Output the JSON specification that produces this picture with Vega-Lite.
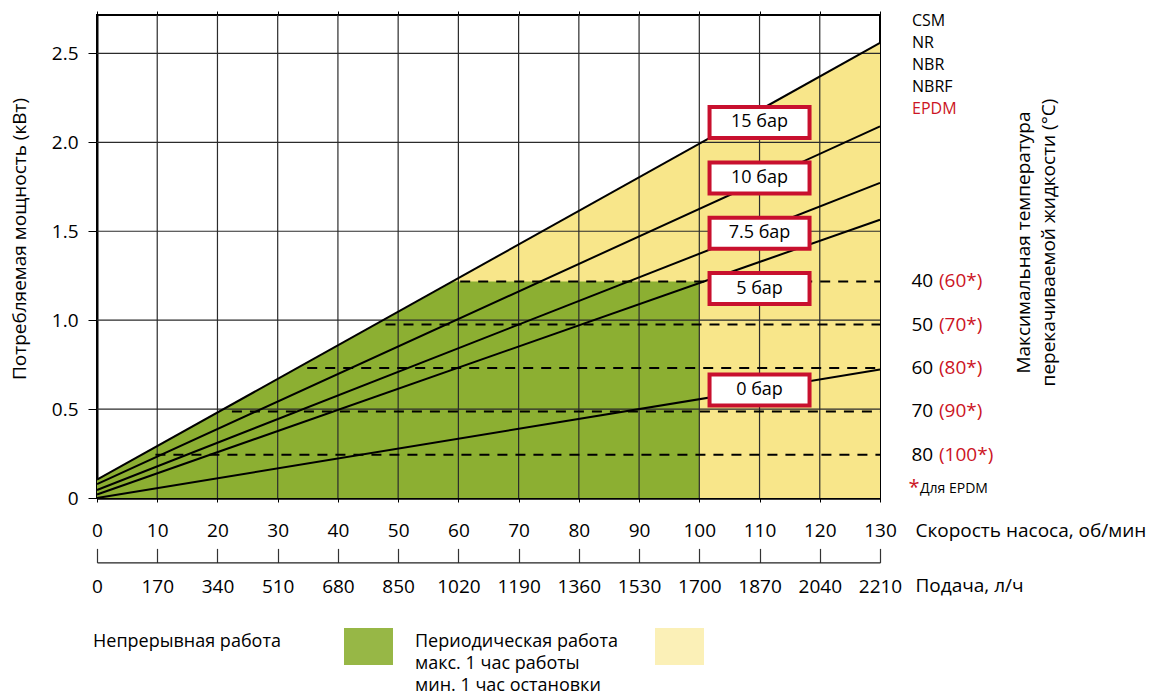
{
  "$schema": "https://vega.github.io/schema/vega-lite/v6.json",
  "width": 783,
  "height": 483,
  "autosize": "none",
  "padding": {"left": 97, "top": 15, "right": 269, "bottom": 197},
  "background": "white",
  "config": {
    "font": "Open Sans",
    "view": {"stroke": "black", "strokeWidth": 2},
    "axis": {
      "labelFont": "Open Sans",
      "titleFont": "Open Sans",
      "labelColor": "black",
      "titleColor": "black",
      "titleFontWeight": "normal",
      "labelFontSize": 19,
      "titleFontSize": 19,
      "grid": false,
      "labelFlush": false,
      "labelOverlap": false,
      "labelBound": false
    }
  },
  "datasets": {
    "periodic": [
      {"rpm": 0, "kw": 0.103, "zone": "Периодическая работа"},
      {"rpm": 130, "kw": 2.559, "zone": "Периодическая работа"}
    ],
    "continuous": [
      {"rpm": 0, "kw": 0.103, "zone": "Непрерывная работа"},
      {"rpm": 59.2, "kw": 1.218, "zone": "Непрерывная работа"},
      {"rpm": 100, "kw": 1.218, "zone": "Непрерывная работа"}
    ],
    "grid_rpm": [
      {"rpm": 10}, {"rpm": 20}, {"rpm": 30}, {"rpm": 40}, {"rpm": 50}, {"rpm": 60},
      {"rpm": 70}, {"rpm": 80}, {"rpm": 90}, {"rpm": 100}, {"rpm": 110}, {"rpm": 120}
    ],
    "grid_kw": [{"kw": 0.5}, {"kw": 1.0}, {"kw": 1.5}, {"kw": 2.0}, {"kw": 2.5}],
    "limits": [
      {"kw": 1.218, "from_rpm": 60.3, "temp": "40", "temp_epdm": "(60*)"},
      {"kw": 0.975, "from_rpm": 47.9, "temp": "50", "temp_epdm": "(70*)"},
      {"kw": 0.731, "from_rpm": 34.9, "temp": "60", "temp_epdm": "(80*)"},
      {"kw": 0.487, "from_rpm": 22.4, "temp": "70", "temp_epdm": "(90*)"},
      {"kw": 0.2435, "from_rpm": 9.7, "temp": "80", "temp_epdm": "(100*)"}
    ],
    "pressure": [
      {"pressure": "15 бар", "rpm": 0, "kw": 0.103},
      {"pressure": "15 бар", "rpm": 130, "kw": 2.559},
      {"pressure": "10 бар", "rpm": 0, "kw": 0.078},
      {"pressure": "10 бар", "rpm": 130, "kw": 2.09},
      {"pressure": "7.5 бар", "rpm": 0, "kw": 0.045},
      {"pressure": "7.5 бар", "rpm": 130, "kw": 1.772},
      {"pressure": "5 бар", "rpm": 0, "kw": 0.02},
      {"pressure": "5 бар", "rpm": 130, "kw": 1.565},
      {"pressure": "0 бар", "rpm": 0, "kw": 0.0},
      {"pressure": "0 бар", "rpm": 130, "kw": 0.722}
    ],
    "labels": [
      {"pressure": "15 бар", "rpm": 110, "kw": 2.112},
      {"pressure": "10 бар", "rpm": 110, "kw": 1.8},
      {"pressure": "7.5 бар", "rpm": 110, "kw": 1.489},
      {"pressure": "5 бар", "rpm": 110, "kw": 1.178},
      {"pressure": "0 бар", "rpm": 110, "kw": 0.607}
    ]
  },
  "resolve": {
    "axis": {"x": "independent", "y": "independent"},
    "scale": {"fill": "independent"},
    "legend": {"fill": "independent"}
  },
  "layer": [
    {
      "data": {"name": "periodic"},
      "mark": {"type": "area"},
      "encoding": {
        "x": {"field": "rpm", "type": "quantitative", "scale": {"domain": [0, 130], "nice": false}, "axis": null},
        "y": {
          "field": "kw", "type": "quantitative",
          "scale": {"domain": [0, 2.716], "nice": false},
          "axis": {
            "orient": "left",
            "values": [0, 0.5, 1, 1.5, 2, 2.5],
            "labelExpr": "datum.value == 0 ? '0' : format(datum.value, '.1f')",
            "tickSize": 9, "tickColor": "black", "tickWidth": 1,
            "domainColor": "black", "domainWidth": 2,
            "labelPadding": 10,
            "title": "Потребляемая мощность (кВт)",
            "titleX": -78, "titleY": 223.5, "titleAngle": 270,
            "titleAlign": "center", "titleBaseline": "middle"
          }
        },
        "fill": {
          "field": "zone", "type": "nominal",
          "scale": {"domain": ["Периодическая работа"], "range": ["#F8E68A"]},
          "legend": {
            "orient": "none", "legendX": 318, "legendY": 607,
            "direction": "horizontal", "title": null,
            "symbolType": "M-1,-0.755L1,-0.755L1,0.755L-1,0.755Z",
            "symbolSize": 2401, "symbolOffset": 240, "labelOffset": -289,
            "symbolStrokeWidth": 0, "symbolOpacity": 0.62,
            "labelFont": "Open Sans", "labelFontSize": 18, "labelColor": "black",
            "labelBaseline": "alphabetic", "labelLimit": 400,
            "labelExpr": "['Периодическая работа', 'макс. 1 час работы', 'мин. 1 час остановки']",
            "encode": {
              "labels": {"update": {"lineHeight": {"value": 22}}}
            }
          }
        }
      }
    },
    {
      "data": {"name": "continuous"},
      "mark": {"type": "area"},
      "encoding": {
        "x": {
          "field": "rpm", "type": "quantitative", "scale": {"domain": [0, 130], "nice": false},
          "axis": {
            "orient": "top", "labels": false, "domain": false, "ticks": true,
            "tickSize": 4, "tickColor": "black", "tickWidth": 1,
            "values": [0, 10, 20, 30, 40, 50, 60, 70, 80, 90, 100, 110, 120, 130],
            "title": null
          }
        },
        "y": {"field": "kw", "type": "quantitative", "scale": {"domain": [0, 2.716], "nice": false}, "axis": null},
        "fill": {
          "field": "zone", "type": "nominal",
          "scale": {"domain": ["Непрерывная работа"], "range": ["#8CAF32"]},
          "legend": {
            "orient": "none", "legendX": -4, "legendY": 607,
            "direction": "horizontal", "title": null,
            "symbolType": "M-1,-0.755L1,-0.755L1,0.755L-1,0.755Z",
            "symbolSize": 2401, "symbolOffset": 251, "labelOffset": -300,
            "symbolStrokeWidth": 0, "symbolOpacity": 0.9,
            "labelFont": "Open Sans", "labelFontSize": 18, "labelColor": "black",
            "labelBaseline": "alphabetic", "labelLimit": 400
          }
        }
      }
    },
    {
      "data": {"name": "grid_rpm"},
      "mark": {"type": "rule", "color": "#2b2b2b", "strokeWidth": 1.2},
      "encoding": {
        "x": {
          "field": "rpm", "type": "quantitative", "scale": {"domain": [0, 130], "nice": false},
          "axis": {
            "orient": "bottom",
            "values": [0, 10, 20, 30, 40, 50, 60, 70, 80, 90, 100, 110, 120, 130],
            "domainColor": "black", "domainWidth": 2.5,
            "tickColor": "black", "tickSize": 4, "tickWidth": 1,
            "labelPadding": 19, "labelAngle": 0,
            "title": "Скорость насоса, об/мин",
            "titleX": 818, "titleY": 32, "titleAlign": "left", "titleBaseline": "middle", "titleAngle": 0
          }
        }
      }
    },
    {
      "data": {"name": "grid_kw"},
      "mark": {"type": "rule", "color": "#2b2b2b", "strokeWidth": 1.2},
      "encoding": {
        "y": {
          "field": "kw", "type": "quantitative", "scale": {"domain": [0, 2.716], "nice": false},
          "axis": {
            "orient": "right", "labels": false, "ticks": false, "domain": false,
            "title": ["Максимальная температура", "перекачиваемой жидкости (°C)"],
            "titleAngle": 270, "titleX": 143, "titleY": 227,
            "titleAlign": "center", "titleBaseline": "middle", "titleLineHeight": 25
          }
        }
      }
    },
    {
      "data": {"name": "limits"},
      "mark": {"type": "rule", "color": "black", "strokeWidth": 2, "strokeDash": [10, 8]},
      "encoding": {
        "x": {"field": "from_rpm", "type": "quantitative", "scale": {"domain": [0, 130], "nice": false}, "axis": null},
        "x2": {"datum": 130},
        "y": {"field": "kw", "type": "quantitative", "scale": {"domain": [0, 2.716], "nice": false}, "axis": null}
      }
    },
    {
      "data": {"name": "pressure"},
      "mark": {"type": "line", "color": "black", "strokeWidth": 2},
      "encoding": {
        "x": {
          "field": "rpm", "type": "quantitative", "scale": {"domain": [0, 130], "nice": false},
          "axis": {
            "orient": "bottom", "offset": 64.4,
            "values": [0, 10, 20, 30, 40, 50, 60, 70, 80, 90, 100, 110, 120, 130],
            "labelExpr": "format(datum.value * 17, 'd')",
            "domainColor": "#222", "domainWidth": 1.2,
            "tickColor": "#333", "tickSize": -14, "tickWidth": 1.2,
            "labelPadding": 29, "labelAngle": 0,
            "title": "Подача, л/ч",
            "titleX": 818, "titleY": 23.5, "titleAlign": "left", "titleBaseline": "middle", "titleAngle": 0
          }
        },
        "y": {"field": "kw", "type": "quantitative", "scale": {"domain": [0, 2.716], "nice": false}, "axis": null},
        "detail": {"field": "pressure", "type": "nominal"}
      }
    },
    {
      "data": {"name": "labels"},
      "mark": {
        "type": "point", "shape": "M-1,-0.31L1,-0.31L1,0.31L-1,0.31Z", "size": 10000,
        "filled": true, "fill": "white", "stroke": "#C8102E", "strokeWidth": 4, "opacity": 1
      },
      "encoding": {
        "x": {"field": "rpm", "type": "quantitative", "scale": {"domain": [0, 130], "nice": false}, "axis": null},
        "y": {"field": "kw", "type": "quantitative", "scale": {"domain": [0, 2.716], "nice": false}, "axis": null}
      }
    },
    {
      "data": {"name": "labels"},
      "mark": {"type": "text", "fontSize": 18, "align": "center", "baseline": "middle", "color": "black", "font": "Open Sans"},
      "encoding": {
        "x": {"field": "rpm", "type": "quantitative", "scale": {"domain": [0, 130], "nice": false}, "axis": null},
        "y": {"field": "kw", "type": "quantitative", "scale": {"domain": [0, 2.716], "nice": false}, "axis": null},
        "text": {"field": "pressure"}
      }
    },
    {
      "data": {"name": "limits"},
      "mark": {"type": "text", "fontSize": 19, "align": "left", "baseline": "middle", "color": "black", "dx": 31.5, "font": "Open Sans"},
      "encoding": {
        "x": {"datum": 130, "type": "quantitative", "scale": {"domain": [0, 130], "nice": false}, "axis": null},
        "y": {"field": "kw", "type": "quantitative", "scale": {"domain": [0, 2.716], "nice": false}, "axis": null},
        "text": {"field": "temp"}
      }
    },
    {
      "data": {"name": "limits"},
      "mark": {"type": "text", "fontSize": 19, "align": "left", "baseline": "middle", "color": "#CC1424", "dx": 59, "font": "Open Sans"},
      "encoding": {
        "x": {"datum": 130, "type": "quantitative", "scale": {"domain": [0, 130], "nice": false}, "axis": null},
        "y": {"field": "kw", "type": "quantitative", "scale": {"domain": [0, 2.716], "nice": false}, "axis": null},
        "text": {"field": "temp_epdm"}
      }
    },
    {
      "data": {"values": [{}]},
      "mark": {"type": "text", "fontSize": 16, "align": "left", "baseline": "line-top", "lineHeight": 22, "color": "black", "dx": 32, "dy": -5, "font": "Open Sans"},
      "encoding": {
        "x": {"datum": 130, "type": "quantitative", "scale": {"domain": [0, 130], "nice": false}, "axis": null},
        "y": {"datum": 2.716, "type": "quantitative", "scale": {"domain": [0, 2.716], "nice": false}, "axis": null},
        "text": {"value": ["CSM", "NR", "NBR", "NBRF"]}
      }
    },
    {
      "data": {"values": [{}]},
      "mark": {"type": "text", "fontSize": 16, "align": "left", "baseline": "line-top", "lineHeight": 22, "color": "#CC1424", "dx": 32, "dy": 83, "font": "Open Sans"},
      "encoding": {
        "x": {"datum": 130, "type": "quantitative", "scale": {"domain": [0, 130], "nice": false}, "axis": null},
        "y": {"datum": 2.716, "type": "quantitative", "scale": {"domain": [0, 2.716], "nice": false}, "axis": null},
        "text": {"value": "EPDM"}
      }
    },
    {
      "data": {"values": [{}]},
      "mark": {"type": "text", "fontSize": 20, "align": "left", "baseline": "alphabetic", "color": "#CC1424", "dx": 28.5, "dy": -3.6, "font": "Open Sans"},
      "encoding": {
        "x": {"datum": 130, "type": "quantitative", "scale": {"domain": [0, 130], "nice": false}, "axis": null},
        "y": {"datum": 0, "type": "quantitative", "scale": {"domain": [0, 2.716], "nice": false}, "axis": null},
        "text": {"value": "*"}
      }
    },
    {
      "data": {"values": [{}]},
      "mark": {"type": "text", "fontSize": 14, "align": "left", "baseline": "middle", "color": "black", "dx": 40, "dy": -9, "font": "Open Sans"},
      "encoding": {
        "x": {"datum": 130, "type": "quantitative", "scale": {"domain": [0, 130], "nice": false}, "axis": null},
        "y": {"datum": 0, "type": "quantitative", "scale": {"domain": [0, 2.716], "nice": false}, "axis": null},
        "text": {"value": "Для EPDM"}
      }
    }
  ]
}
